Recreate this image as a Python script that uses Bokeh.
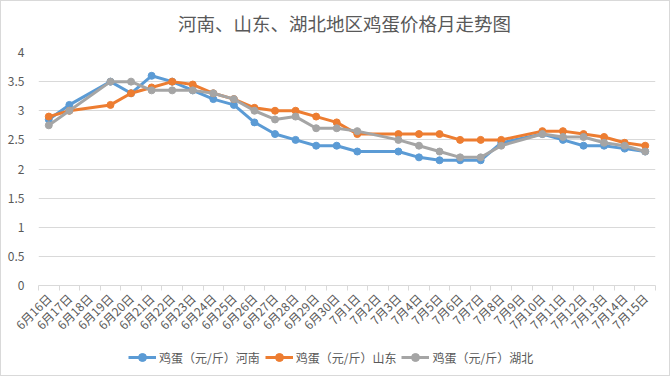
import math
from bokeh.plotting import figure
from bokeh.layouts import column
from bokeh.models import (FixedTicker, NumeralTickFormatter, Legend, LegendItem,
                          Range1d, CustomJSTickFormatter, Label)
from bokeh.embed import file_html
from bokeh.resources import INLINE

dates = ["6月16日", "6月17日", "6月18日", "6月19日", "6月20日", "6月21日", "6月22日",
         "6月23日", "6月24日", "6月25日", "6月26日", "6月27日", "6月28日", "6月29日",
         "6月30日", "7月1日", "7月2日", "7月3日", "7月4日", "7月5日", "7月6日", "7月7日",
         "7月8日", "7月9日", "7月10日", "7月11日", "7月12日", "7月13日", "7月14日", "7月15日"]

henan = [2.85, 3.1, None, 3.5, 3.3, 3.6, 3.5, 3.35, 3.2, 3.1, 2.8, 2.6, 2.5, 2.4, 2.4,
         2.3, None, 2.3, 2.2, 2.15, 2.15, 2.15, 2.45, None, 2.6, 2.5, 2.4, 2.4, 2.35, 2.3]
shandong = [2.9, 3.0, None, 3.1, 3.3, 3.4, 3.5, 3.45, 3.3, 3.2, 3.05, 3.0, 3.0, 2.9, 2.8,
            2.6, None, 2.6, 2.6, 2.6, 2.5, 2.5, 2.5, None, 2.65, 2.65, 2.6, 2.55, 2.45, 2.4]
hubei = [2.75, 3.0, None, 3.5, 3.5, 3.35, 3.35, 3.35, 3.3, 3.2, 3.0, 2.85, 2.9, 2.7, 2.7,
         2.65, None, 2.5, 2.4, 2.3, 2.2, 2.2, 2.4, None, 2.6, 2.55, 2.55, 2.45, 2.4, 2.3]

series_names = ["鸡蛋（元/斤）河南", "鸡蛋（元/斤）山东", "鸡蛋（元/斤）湖北"]
series_values = [henan, shandong, hubei]
colors = ["#5B9BD5", "#ED7D31", "#A5A5A5"]
y_ticks = [0, 0.5, 1, 1.5, 2, 2.5, 3, 3.5, 4]
title_text = "河南、山东、湖北地区鸡蛋价格月走势图"

FONT = "Noto Sans CJK SC"
TXT = "#595959"
GRID = "#D9D9D9"

n = len(dates)
centers = [i + 0.5 for i in range(n)]


def strip(height):
    f = figure(width=668, height=height, output_backend="svg", toolbar_location=None,
               x_range=Range1d(n + 10, n + 11), y_range=Range1d(10, 11), min_border=0)
    f.axis.visible = False
    f.xgrid.grid_line_color = None
    f.ygrid.grid_line_color = None
    f.outline_line_color = None
    f.background_fill_color = "white"
    f.border_fill_color = "white"
    return f


# title strip
tt = strip(40)
tt.add_layout(Label(x=306, y=19, x_units="screen", y_units="screen", text=title_text,
                    text_align="center", text_baseline="middle", text_font=FONT,
                    text_font_size="18.5px", text_color=TXT))

p = figure(width=668, height=300, output_backend="svg", toolbar_location=None,
           x_range=Range1d(0, n), y_range=Range1d(0, 4),
           min_border_left=37, min_border_right=14, min_border_top=11,
           min_border_bottom=55)
p.background_fill_color = "white"
p.border_fill_color = "white"
p.outline_line_color = None

# y axis
p.yaxis.ticker = FixedTicker(ticks=y_ticks)
p.yaxis.formatter = NumeralTickFormatter(format="0.[0]")
p.yaxis.axis_line_color = None
p.yaxis.major_tick_line_color = None
p.yaxis.minor_tick_line_color = None
p.yaxis.major_label_text_font = FONT
p.yaxis.major_label_text_font_size = "12px"
p.yaxis.major_label_text_color = TXT
p.yaxis.major_label_standoff = 8

# x axis
p.xaxis.ticker = FixedTicker(ticks=centers, minor_ticks=list(range(n + 1)))
p.xaxis.formatter = CustomJSTickFormatter(args=dict(labels=dates),
                                          code="return labels[Math.floor(tick)];")
p.xaxis.axis_line_color = GRID
p.xaxis.major_tick_line_color = None
p.xaxis.minor_tick_line_color = GRID
p.xaxis.minor_tick_in = 0
p.xaxis.minor_tick_out = 5
p.xaxis.major_label_orientation = math.pi / 4
p.xaxis.major_label_text_font = FONT
p.xaxis.major_label_text_font_size = "12px"
p.xaxis.major_label_text_color = TXT
p.xaxis.major_label_standoff = 4

p.xgrid.grid_line_color = None
p.ygrid.grid_line_color = GRID
p.ygrid.grid_line_width = 1

# legend strip (same series, drawn outside its visible range so only the legend shows)
lg = strip(34)

items = []
for name, vals, col in zip(series_names, series_values, colors):
    xs = [c for c, v in zip(centers, vals) if v is not None]
    ys = [v for v in vals if v is not None]
    p.line(xs, ys, line_color=col, line_width=3)
    p.scatter(xs, ys, size=7, fill_color=col, line_color=col)
    r1 = lg.line(xs, ys, line_color=col, line_width=3)
    r2 = lg.scatter(xs, ys, size=7, fill_color=col, line_color=col)
    items.append(LegendItem(label=name, renderers=[r1, r2]))

legend = Legend(items=items, orientation="horizontal", location=(90, 8),
                label_text_font=FONT, label_text_font_size="12px",
                label_text_color=TXT, border_line_color=None,
                background_fill_alpha=0, glyph_width=28, label_standoff=3,
                spacing=5, padding=2, margin=0)
lg.add_layout(legend, "center")

layout = column(tt, p, lg, spacing=0)
layout.styles = {"border": "1px solid #D9D9D9", "background-color": "white"}

open("out.html", "w").write(file_html(layout, INLINE))
